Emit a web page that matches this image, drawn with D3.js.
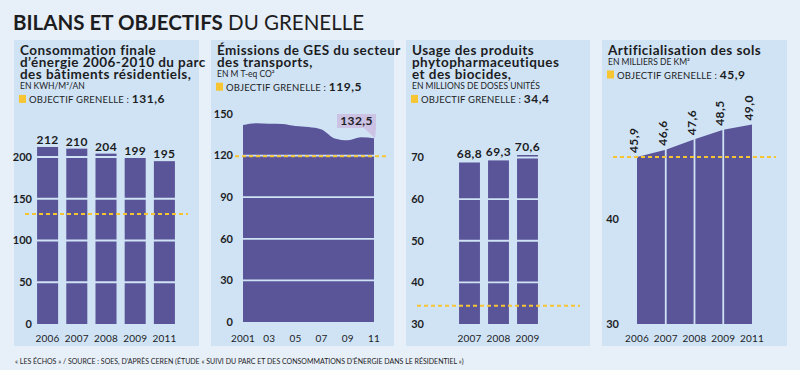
<!DOCTYPE html>
<html>
<head>
<meta charset="utf-8">
<script src="https://cdn.jsdelivr.net/npm/d3@7"></script>
<style>
  body { margin: 0; background: #e7eff8; }
  svg { display: block; font-family: Lato, "Open Sans", sans-serif; }
  .ptitle { font-size: 13.5px; font-weight: 700; fill: #1d1d1f; letter-spacing: 0.45px; }
  .psub { font-size: 8.5px; fill: #1d1d1f; }
  .goal { font-size: 9.5px; fill: #1d1d1f; letter-spacing: 0.2px; }
  .goal tspan.v { font-size: 12px; font-weight: 700; letter-spacing: 0.5px; }
  .tick { font-size: 11px; font-weight: 700; fill: #1d1d1f; }
  .year { font-size: 10px; fill: #1d1d1f; letter-spacing: 0.2px; }
  .val { font-size: 12px; font-weight: 700; fill: #1d1d1f; letter-spacing: 0.4px; }
</style>
</head>
<body>
<svg id="chart"></svg>
<script>
var width = 800;
var height = 370;

var purple = "#5a5498";
var panelFill = "#cfe3f5";
var goalColor = "#f7c531";

// panel 1 : consommation finale
var consoYears = ["2006", "2007", "2008", "2009", "2011"];
var consoValues = [212, 210, 204, 199, 195];
var consoTicks = [0, 50, 100, 150, 200];
var consoGoal = 131.6;

// panel 2 : emissions GES transports
var gesYears = [2001, 2002, 2003, 2004, 2005, 2006, 2007, 2008, 2009, 2010, 2011];
var gesValues = [142.0, 143.3, 143.0, 142.8, 141.3, 140.6, 138.9, 132.4, 131.0, 133.2, 132.5];
var gesTicks = [0, 30, 60, 90, 120, 150];
var gesYearTicks = [2001, 2003, 2005, 2007, 2009, 2011];
var gesYearLabels = ["2001", "03", "05", "07", "09", "11"];
var gesGoal = 119.5;

// panel 3 : phytosanitaires
var phytoYears = ["2007", "2008", "2009"];
var phytoValues = [68.8, 69.3, 70.6];
var phytoTicks = [30, 40, 50, 60, 70];
var phytoGoal = 34.4;

// panel 4 : artificialisation
var solsYears = ["2006", "2007", "2008", "2009", "2011"];
var solsValues = [45.9, 46.6, 47.6, 48.5, 49.0];
var solsTicks = [30, 40];
var solsGoal = 45.9;

var fr = d3.formatLocale({decimal: ",", thousands: " ", grouping: [3], currency: ["", " €"]});
var f1 = fr.format(".1f");

var svg = d3.select("#chart").attr("width", width).attr("height", height);

svg.append("rect").attr("width", width).attr("height", height).attr("fill", "#e7eff8");

// title
var title = svg.append("text").attr("x", 13).attr("y", 30)
    .style("font-size", "20.5px").attr("fill", "#1d1d1f");
title.append("tspan").attr("font-weight", 700).text("BILANS ET OBJECTIFS");
title.append("tspan").text(" DU GRENELLE");

// footer
svg.append("text").attr("x", 15).attr("y", 364)
    .style("font-size", "7px").attr("fill", "#1d1d1f")
    .text("« LES ÉCHOS » / SOURCE : SOES, D’APRÈS CEREN (ÉTUDE « SUIVI DU PARC ET DES CONSOMMATIONS D’ÉNERGIE DANS LE RÉSIDENTIEL »)");

var panels = [
    {x: 14, w: 185, title: ["Consommation finale", "d’énergie 2006-2010 du parc", "des bâtiments résidentiels,"], sub: "EN KWH/M²/AN", goal: consoGoal},
    {x: 211, w: 183, title: ["Émissions de GES du secteur", "des transports,"], sub: "EN M T-eq CO²", goal: gesGoal},
    {x: 406, w: 184, title: ["Usage des produits", "phytopharmaceutiques", "et des biocides,"], sub: "EN MILLIONS DE DOSES UNITÉS", goal: phytoGoal},
    {x: 602, w: 185, title: ["Artificialisation des sols"], sub: "EN MILLIERS DE KM²", goal: solsGoal}
];

panels.forEach(function(p) {
    svg.append("rect").attr("x", p.x).attr("y", 40).attr("width", p.w).attr("height", 306)
        .attr("fill", panelFill);
    var tx = p.x + 6;
    var t = svg.append("text").attr("class", "ptitle");
    p.title.forEach(function(line, i) {
        t.append("tspan").attr("x", tx).attr("y", 55 + i * 12.2).text(line);
    });
    var subY = 55 + (p.title.length - 1) * 12.2 + 10;
    svg.append("text").attr("class", "psub").attr("x", tx).attr("y", subY).text(p.sub);
    var gy = subY + 13.5;
    svg.append("rect").attr("x", tx - 1).attr("y", gy - 8).attr("width", 7).attr("height", 8)
        .attr("fill", goalColor);
    var g = svg.append("text").attr("class", "goal").attr("x", tx + 9).attr("y", gy);
    g.append("tspan").text("OBJECTIF GRENELLE : ");
    g.append("tspan").attr("class", "v").text(f1(p.goal));
});

function goalLine(x0, x1, yv) {
    svg.append("line").attr("x1", x0).attr("x2", x1).attr("y1", yv).attr("y2", yv)
        .attr("stroke", goalColor).attr("stroke-width", 2).attr("stroke-dasharray", "4,3");
}

function yTicks(ticks, y, xr) {
    svg.selectAll(null).data(ticks).enter().append("text")
        .attr("class", "tick").attr("x", xr).attr("y", function(d) { return y(d); })
        .attr("dy", "0.35em").attr("text-anchor", "end").text(function(d) { return d; });
}

function gridLines(ticks, y, x0, x1) {
    svg.selectAll(null).data(ticks).enter().append("line")
        .attr("x1", x0).attr("x2", x1)
        .attr("y1", function(d) { return y(d); }).attr("y2", function(d) { return y(d); })
        .attr("stroke", panelFill).attr("stroke-width", 1.8);
}

// ---- panel 1 ----
var x1 = d3.scaleBand().domain(consoYears).range([33, 179]).paddingInner(0.28).paddingOuter(0.14);
var y1 = d3.scaleLinear().domain([0, 200]).range([324, 157]);
svg.selectAll(null).data(consoValues).enter().append("rect")
    .attr("x", function(d, i) { return x1(consoYears[i]); })
    .attr("width", x1.bandwidth())
    .attr("y", function(d) { return y1(d); })
    .attr("height", function(d) { return y1(0) - y1(d); })
    .attr("fill", purple);
gridLines(consoTicks.slice(1), y1, 33, 179);
goalLine(25, 188, y1(consoGoal));
yTicks(consoTicks, y1, 32);
svg.selectAll(null).data(consoValues).enter().append("text")
    .attr("class", "val").attr("text-anchor", "middle")
    .attr("x", function(d, i) { return x1(consoYears[i]) + x1.bandwidth() / 2; })
    .attr("y", function(d) { return y1(d) - 3; })
    .text(function(d) { return d; });
svg.selectAll(null).data(consoYears).enter().append("text")
    .attr("class", "year").attr("text-anchor", "middle")
    .attr("x", function(d) { return x1(d) + x1.bandwidth() / 2; })
    .attr("y", 342).text(function(d) { return d; });

// ---- panel 2 ----
var x2 = d3.scaleLinear().domain([2001, 2011]).range([243, 374]);
var y2 = d3.scaleLinear().domain([0, 150]).range([322, 114]);
var area2 = d3.area()
    .x(function(d, i) { return x2(gesYears[i]); })
    .y0(y2(0))
    .y1(function(d) { return y2(d); })
    .curve(d3.curveMonotoneX);
svg.append("path").datum(gesValues).attr("d", area2).attr("fill", purple);
gridLines([30, 60, 90, 120], y2, 243, 374);
goalLine(235, 386, y2(gesGoal));
yTicks(gesTicks, y2, 233);
svg.selectAll(null).data(gesYearTicks).enter().append("text")
    .attr("class", "year").attr("text-anchor", "middle")
    .attr("x", function(d) { return x2(d); })
    .attr("y", 342).text(function(d, i) { return gesYearLabels[i]; });
var lastX = x2(gesYears[gesYears.length - 1]);
var lastY = y2(gesValues[gesValues.length - 1]);
svg.append("path")
    .attr("d", "M" + (lastX - 10) + "," + 128 + "L" + (lastX + 2) + "," + 128 + "L" + (lastX + 1) + "," + lastY + "Z")
    .attr("fill", "#cbc2e4");
svg.append("rect").attr("x", lastX - 37).attr("y", 114).attr("width", 39).attr("height", 14)
    .attr("fill", "#cbc2e4");
svg.append("text").attr("class", "val").attr("text-anchor", "middle")
    .attr("x", lastX - 17.5).attr("y", 125).text(f1(gesValues[gesValues.length - 1]));

// ---- panel 3 ----
var x3 = d3.scaleBand().domain(phytoYears).range([455, 542]).paddingInner(0.28).paddingOuter(0.14);
var y3 = d3.scaleLinear().domain([30, 70]).range([324, 157.5]);
svg.selectAll(null).data(phytoValues).enter().append("rect")
    .attr("x", function(d, i) { return x3(phytoYears[i]); })
    .attr("width", x3.bandwidth())
    .attr("y", function(d) { return y3(d); })
    .attr("height", function(d) { return y3(30) - y3(d); })
    .attr("fill", purple);
gridLines([40, 50, 60, 70], y3, 455, 542);
goalLine(417, 580, y3(phytoGoal));
yTicks(phytoTicks, y3, 424);
svg.selectAll(null).data(phytoValues).enter().append("text")
    .attr("class", "val").attr("text-anchor", "middle")
    .attr("x", function(d, i) { return x3(phytoYears[i]) + x3.bandwidth() / 2; })
    .attr("y", function(d) { return y3(d) - 4; })
    .text(function(d) { return f1(d); });
svg.selectAll(null).data(phytoYears).enter().append("text")
    .attr("class", "year").attr("text-anchor", "middle")
    .attr("x", function(d) { return x3(d) + x3.bandwidth() / 2; })
    .attr("y", 342).text(function(d) { return d; });

// ---- panel 4 ----
var x4 = d3.scalePoint().domain(solsYears).range([637, 752]);
var y4 = d3.scaleLinear().domain([30, 40]).range([324, 219]);
var area4 = d3.area()
    .x(function(d, i) { return x4(solsYears[i]); })
    .y0(y4(30))
    .y1(function(d) { return y4(d); });
svg.append("path").datum(solsValues).attr("d", area4).attr("fill", purple);
svg.selectAll(null).data(solsYears.slice(1, -1)).enter().append("line")
    .attr("x1", function(d) { return x4(d); }).attr("x2", function(d) { return x4(d); })
    .attr("y1", y4(30)).attr("y2", function(d, i) { return y4(solsValues[i + 1]) - 1; })
    .attr("stroke", panelFill).attr("stroke-width", 1.8);
goalLine(613, 776, y4(solsGoal));
yTicks(solsTicks, y4, 619);
svg.selectAll(null).data(solsValues).enter().append("text")
    .attr("class", "val")
    .attr("transform", function(d, i) {
        return "translate(" + (x4(solsYears[i]) + 1) + "," + (y4(d) - 4) + ") rotate(-90)";
    })
    .text(function(d) { return f1(d); });
svg.selectAll(null).data(solsYears).enter().append("text")
    .attr("class", "year").attr("text-anchor", "middle")
    .attr("x", function(d) { return x4(d); })
    .attr("y", 342).text(function(d) { return d; });
</script>
</body>
</html>
